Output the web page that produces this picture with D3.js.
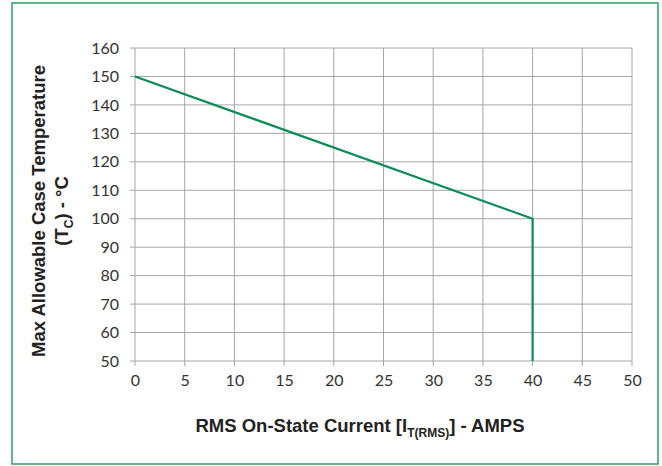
<!DOCTYPE html>
<html>
<head>
<meta charset="utf-8">
<script src="https://cdn.jsdelivr.net/npm/d3@7"></script>
<style>
  body { margin: 0; background: #fff; }
  .tick text { font-family: Lato, "Open Sans", sans-serif; font-size: 16px; fill: #333; }
  .title { font-family: "Liberation Sans", Arial, sans-serif; font-weight: bold; font-size: 18.5px; fill: #222; }
</style>
</head>
<body>
<svg width="662" height="466"></svg>
<script>
// derating curve
var currentAmps = [0, 40, 40];
var caseTemp = [150, 100, 50];
var xTicks = [0, 5, 10, 15, 20, 25, 30, 35, 40, 45, 50];
var yTicks = [50, 60, 70, 80, 90, 100, 110, 120, 130, 140, 150, 160];

var svg = d3.select("svg");

svg.append("rect")
    .attr("x", 12).attr("y", 3)
    .attr("width", 646).attr("height", 461)
    .attr("fill", "none")
    .attr("stroke", "#2e9e68")
    .attr("stroke-width", 1.5);

var x = d3.scaleLinear().domain([0, 50]).range([135, 632]),
    y = d3.scaleLinear().domain([50, 160]).range([361, 48]);

// grid
svg.append("g")
  .selectAll("line")
  .data(xTicks)
  .enter().append("line")
    .attr("x1", function(d) { return x(d); })
    .attr("x2", function(d) { return x(d); })
    .attr("y1", y(160)).attr("y2", y(50) + 5)
    .attr("stroke", "#a6a6a6");

svg.append("g")
  .selectAll("line")
  .data(yTicks)
  .enter().append("line")
    .attr("x1", x(0) - 5).attr("x2", x(50))
    .attr("y1", function(d) { return y(d); })
    .attr("y2", function(d) { return y(d); })
    .attr("stroke", "#a6a6a6");

var xAxis = svg.append("g")
    .attr("transform", "translate(0," + y(50) + ")")
    .call(d3.axisBottom(x).tickValues(xTicks).tickSize(0).tickPadding(14));
xAxis.select(".domain").remove();

var yAxis = svg.append("g")
    .attr("transform", "translate(" + x(0) + ",0)")
    .call(d3.axisLeft(y).tickValues(yTicks).tickSize(0).tickPadding(16));
yAxis.select(".domain").remove();

var line = d3.line()
    .x(function(d, i) { return x(currentAmps[i]); })
    .y(function(d, i) { return y(caseTemp[i]); });

svg.append("path")
    .datum(currentAmps)
    .attr("d", line)
    .attr("fill", "none")
    .attr("stroke", "#0d8c56")
    .attr("stroke-width", 2.2);

// axis titles
var xt = svg.append("text")
    .attr("class", "title")
    .attr("x", 360).attr("y", 432)
    .attr("text-anchor", "middle");
xt.append("tspan").text("RMS On-State Current [I");
xt.append("tspan").attr("font-size", "12px").attr("dy", 5).text("T(RMS)");
xt.append("tspan").attr("dy", -5).text("] - AMPS");

var yt = svg.append("g")
    .attr("transform", "translate(45,211) rotate(-90)");
yt.append("text")
    .attr("class", "title")
    .attr("text-anchor", "middle")
    .text("Max Allowable Case Temperature");
var yt2 = yt.append("text")
    .attr("class", "title")
    .attr("y", 23)
    .attr("text-anchor", "middle");
yt2.append("tspan").text("(T");
yt2.append("tspan").attr("font-size", "12px").attr("dy", 5).text("C");
yt2.append("tspan").attr("dy", -5).text(") - °C");
</script>
</body>
</html>
